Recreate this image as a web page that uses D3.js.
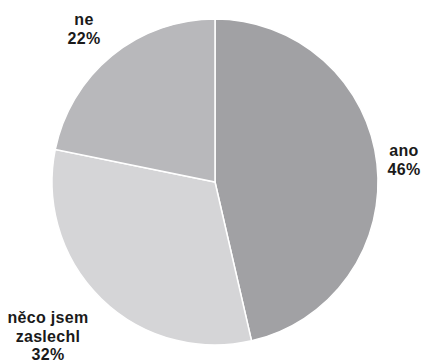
<!DOCTYPE html>
<html><head><meta charset="utf-8">
<script src="https://cdn.jsdelivr.net/npm/d3@7"></script>
<style>html,body{margin:0;padding:0;background:#fff;}svg{display:block;}</style>
</head><body>
<svg id="chart" width="422" height="364"></svg>
<script>
const categories = ["ano", "něco jsem zaslechl", "ne"];
const values = [46.4, 31.8, 21.8];
const labelLines = [["ano", "46%"], ["něco jsem", "zaslechl", "32%"], ["ne", "22%"]];
const colors = ["#a1a1a4", "#d5d5d7", "#b8b8bb"];

const svg = d3.select("#chart");
const cx = 215, cy = 182, r = 163;
const g = svg.append("g").attr("transform", `translate(${cx},${cy})`);
const pie = d3.pie().sort(null).value(d => d.v);
const arcs = pie(categories.map((c, i) => ({c, v: values[i], i})));
const arc = d3.arc().innerRadius(0).outerRadius(r);
g.selectAll("path").data(arcs).join("path")
  .attr("d", arc)
  .attr("fill", d => colors[d.data.i])
  .attr("stroke", "#fff").attr("stroke-width", 1.5);

// label anchor positions (center x, first baseline y)
const labelPos = [[404, 156], [48, 323], [84, 25]];
const lineH = 18.5;
labelLines.forEach((lines, i) => {
  const t = svg.append("text")
    .attr("text-anchor", "middle")
    .attr("font-family", "'Liberation Sans', Arial, sans-serif")
    .attr("font-weight", "bold").attr("font-size", 16)
    .attr("letter-spacing", 0.3)
    .attr("fill", "#1a1a1a");
  lines.forEach((ln, j) => {
    t.append("tspan").attr("x", labelPos[i][0]).attr("y", labelPos[i][1] + j * lineH).text(ln);
  });
});
</script>
</body></html>
